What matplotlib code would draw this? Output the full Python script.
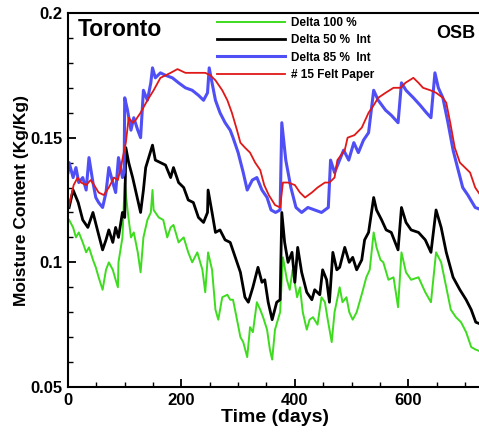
import matplotlib
matplotlib.use("Agg")
import matplotlib.pyplot as plt
from matplotlib.ticker import MultipleLocator

plt.rcParams['font.family'] = ['Liberation Sans', 'DejaVu Sans']
plt.rcParams['font.weight'] = 'bold'

# Delta 100 %
green_days = [2, 9, 14, 19, 26, 32, 37, 44, 49, 54, 61, 67, 72, 79, 84, 88, 89, 96, 100, 105,
              111, 116, 123, 128, 133, 140, 146, 149, 151, 160, 168, 175, 181, 186, 195, 204, 212, 219, 228, 237,
              242, 247, 254, 260, 265, 272, 281, 286, 291, 298, 304, 309, 316, 321, 326, 333, 339, 344, 351, 356,
              360, 365, 374, 379, 386, 391, 396, 404, 409, 414, 421, 426, 432, 440, 447, 453, 458, 465, 470, 479,
              484, 491, 496, 502, 509, 514, 519, 526, 532, 539, 544, 551, 556, 565, 574, 582, 588, 596, 605, 618,
              630, 640, 649, 658, 667, 675, 684, 693, 702, 711, 719, 730]
green_vals = [0.117, 0.114, 0.110, 0.112, 0.108, 0.104, 0.106, 0.101, 0.098, 0.094, 0.089, 0.097, 0.100, 0.097, 0.093, 0.090, 0.100, 0.110, 0.132, 0.121,
              0.110, 0.112, 0.104, 0.096, 0.110, 0.117, 0.120, 0.129, 0.121, 0.118, 0.117, 0.110, 0.114, 0.115, 0.108, 0.110, 0.104, 0.100, 0.104, 0.097,
              0.088, 0.104, 0.097, 0.081, 0.077, 0.086, 0.087, 0.085, 0.085, 0.077, 0.070, 0.068, 0.062, 0.074, 0.072, 0.084, 0.081, 0.078, 0.073, 0.065,
              0.061, 0.073, 0.080, 0.102, 0.093, 0.089, 0.097, 0.086, 0.090, 0.080, 0.073, 0.077, 0.078, 0.075, 0.086, 0.084, 0.077, 0.068, 0.080, 0.090,
              0.084, 0.086, 0.080, 0.077, 0.080, 0.084, 0.088, 0.094, 0.097, 0.112, 0.106, 0.101, 0.100, 0.093, 0.094, 0.082, 0.104, 0.096, 0.093, 0.094,
              0.088, 0.084, 0.104, 0.100, 0.090, 0.081, 0.078, 0.076, 0.072, 0.066, 0.065, 0.064]

# Delta 50 % Int
black_days = [2, 9, 18, 26, 35, 44, 53, 61, 67, 72, 79, 84, 89, 96, 100, 102, 107, 114, 123, 128,
              133, 137, 149, 154, 163, 172, 181, 186, 195, 204, 212, 221, 230, 239, 246, 247, 254, 260, 268, 277,
              286, 295, 304, 312, 318, 326, 335, 342, 347, 353, 360, 368, 374, 377, 382, 388, 395, 400, 405, 412,
              421, 430, 435, 444, 449, 456, 461, 467, 474, 479, 488, 496, 502, 509, 518, 523, 530, 539, 544, 553,
              561, 570, 582, 588, 596, 605, 618, 630, 640, 649, 658, 667, 679, 691, 702, 711, 719, 730]
black_vals = [0.122, 0.129, 0.124, 0.117, 0.114, 0.120, 0.112, 0.105, 0.109, 0.113, 0.108, 0.114, 0.110, 0.120, 0.118, 0.146, 0.140, 0.134, 0.125, 0.120,
              0.129, 0.138, 0.147, 0.141, 0.140, 0.139, 0.134, 0.138, 0.132, 0.130, 0.125, 0.124, 0.118, 0.116, 0.120, 0.129, 0.120, 0.112, 0.113, 0.109,
              0.108, 0.102, 0.096, 0.086, 0.084, 0.090, 0.098, 0.092, 0.093, 0.084, 0.077, 0.084, 0.085, 0.120, 0.108, 0.100, 0.104, 0.092, 0.106, 0.096,
              0.088, 0.085, 0.089, 0.087, 0.097, 0.093, 0.084, 0.104, 0.097, 0.098, 0.106, 0.100, 0.102, 0.097, 0.101, 0.109, 0.112, 0.126, 0.121, 0.117,
              0.113, 0.112, 0.105, 0.122, 0.116, 0.113, 0.112, 0.109, 0.104, 0.121, 0.114, 0.104, 0.094, 0.089, 0.085, 0.081, 0.076, 0.075]

# Delta 85 % Int
blue_days = [0, 2, 9, 14, 19, 26, 32, 37, 44, 49, 54, 61, 67, 72, 79, 84, 89, 96, 99, 100,
             105, 111, 116, 123, 128, 133, 140, 146, 149, 154, 163, 172, 184, 195, 207, 219, 230, 239, 246, 249,
             254, 260, 268, 277, 286, 291, 300, 309, 316, 325, 333, 342, 351, 358, 366, 374, 377, 384, 393, 402,
             412, 423, 435, 447, 459, 463, 470, 486, 495, 504, 512, 521, 530, 539, 547, 560, 570, 582, 588, 596,
             609, 621, 632, 640, 647, 653, 661, 670, 679, 688, 696, 705, 718, 730]
blue_vals = [0.136, 0.140, 0.134, 0.138, 0.132, 0.134, 0.129, 0.142, 0.132, 0.126, 0.124, 0.122, 0.128, 0.138, 0.132, 0.128, 0.142, 0.134, 0.136, 0.166,
             0.161, 0.153, 0.158, 0.153, 0.150, 0.169, 0.165, 0.172, 0.178, 0.174, 0.176, 0.175, 0.174, 0.172, 0.170, 0.169, 0.167, 0.165, 0.168, 0.178,
             0.172, 0.165, 0.160, 0.156, 0.153, 0.150, 0.144, 0.136, 0.129, 0.133, 0.134, 0.129, 0.126, 0.121, 0.120, 0.121, 0.156, 0.141, 0.130, 0.122,
             0.120, 0.122, 0.121, 0.120, 0.122, 0.141, 0.136, 0.145, 0.141, 0.148, 0.144, 0.149, 0.152, 0.169, 0.165, 0.161, 0.159, 0.156, 0.172, 0.169,
             0.166, 0.163, 0.160, 0.158, 0.176, 0.170, 0.166, 0.156, 0.145, 0.137, 0.130, 0.127, 0.122, 0.121]

# # 15 Felt Paper
red_days = [0, 10, 17, 23, 32, 40, 46, 54, 63, 72, 81, 88, 93, 102, 107, 114, 119, 128, 140, 151,
            163, 181, 193, 207, 225, 242, 251, 260, 272, 281, 289, 298, 304, 312, 321, 330, 339, 346, 354, 365,
            374, 379, 388, 400, 409, 418, 430, 440, 453, 461, 470, 475, 488, 493, 505, 518, 530, 539, 547, 560,
            574, 586, 595, 609, 618, 626, 639, 649, 661, 667, 674, 682, 691, 700, 709, 718, 730]
red_vals = [0.121, 0.131, 0.134, 0.132, 0.131, 0.133, 0.131, 0.128, 0.127, 0.130, 0.134, 0.133, 0.138, 0.148, 0.158, 0.156, 0.157, 0.160, 0.165, 0.169,
            0.174, 0.176, 0.1775, 0.176, 0.176, 0.176, 0.175, 0.173, 0.169, 0.165, 0.160, 0.153, 0.148, 0.146, 0.144, 0.140, 0.137, 0.131, 0.127, 0.123,
            0.122, 0.132, 0.132, 0.131, 0.128, 0.126, 0.128, 0.130, 0.132, 0.132, 0.134, 0.141, 0.145, 0.150, 0.151, 0.154, 0.160, 0.163, 0.166, 0.168,
            0.170, 0.170, 0.172, 0.174, 0.172, 0.170, 0.169, 0.168, 0.166, 0.164, 0.156, 0.146, 0.140, 0.138, 0.136, 0.130, 0.126]

fig = plt.figure(figsize=(4.79, 4.32), dpi=100)
ax = fig.add_axes([68 / 479, 45 / 432, 414 / 479, 374 / 432])

ax.plot(green_days, green_vals, color='#3ddc1e', lw=1.4, label='Delta 100 %')
ax.plot(black_days, black_vals, color='black', lw=2.0, label='Delta 50 %  Int')
ax.plot(blue_days, blue_vals, color='#4f4ff5', lw=2.2, label='Delta 85 %  Int')
ax.plot(red_days, red_vals, color='#e01818', lw=1.3, label='# 15 Felt Paper')

ax.set_xlim(0, 730)
ax.set_ylim(0.05, 0.2)
ax.xaxis.set_major_locator(MultipleLocator(200))
ax.xaxis.set_minor_locator(MultipleLocator(50))
ax.yaxis.set_minor_locator(MultipleLocator(0.01))
ax.set_yticks([0.05, 0.1, 0.15, 0.2])
ax.set_yticklabels(['0.05', '0.1', '0.15', '0.2'])
ax.tick_params(which='major', direction='in', length=6, width=1.3, labelsize=12, pad=4)
ax.tick_params(which='minor', direction='in', length=3.5, width=1.0)
ax.tick_params(top=False, right=False)
for lab in ax.get_xticklabels() + ax.get_yticklabels():
    lab.set_fontweight('bold')
for sp in ax.spines.values():
    sp.set_linewidth(1.5)
ax.spines['right'].set_visible(False)

ax.set_xlabel('Time (days)', fontsize=14, fontweight='bold', labelpad=1)
ax.set_ylabel('Moisture Content (Kg/Kg)', fontsize=12.5, fontweight='bold', labelpad=1)

ax.text(78 / 479, 1 - 29 / 432, 'Toronto', transform=fig.transFigure, fontsize=16.5,
        fontweight='bold', va='center', ha='left')
ax.text(475 / 479, 1 - 33 / 432, 'OSB', transform=fig.transFigure, fontsize=13,
        fontweight='bold', va='center', ha='right')

ax.legend(loc='upper left', bbox_to_anchor=(217 / 479, 1 - 17 / 432), bbox_transform=fig.transFigure,
          frameon=False, handlelength=5.8, handletextpad=0.45, labelspacing=0.45,
          borderpad=0, borderaxespad=0, prop={'weight': 'bold', 'size': 8.5})

fig.savefig('out.png', dpi=100)
